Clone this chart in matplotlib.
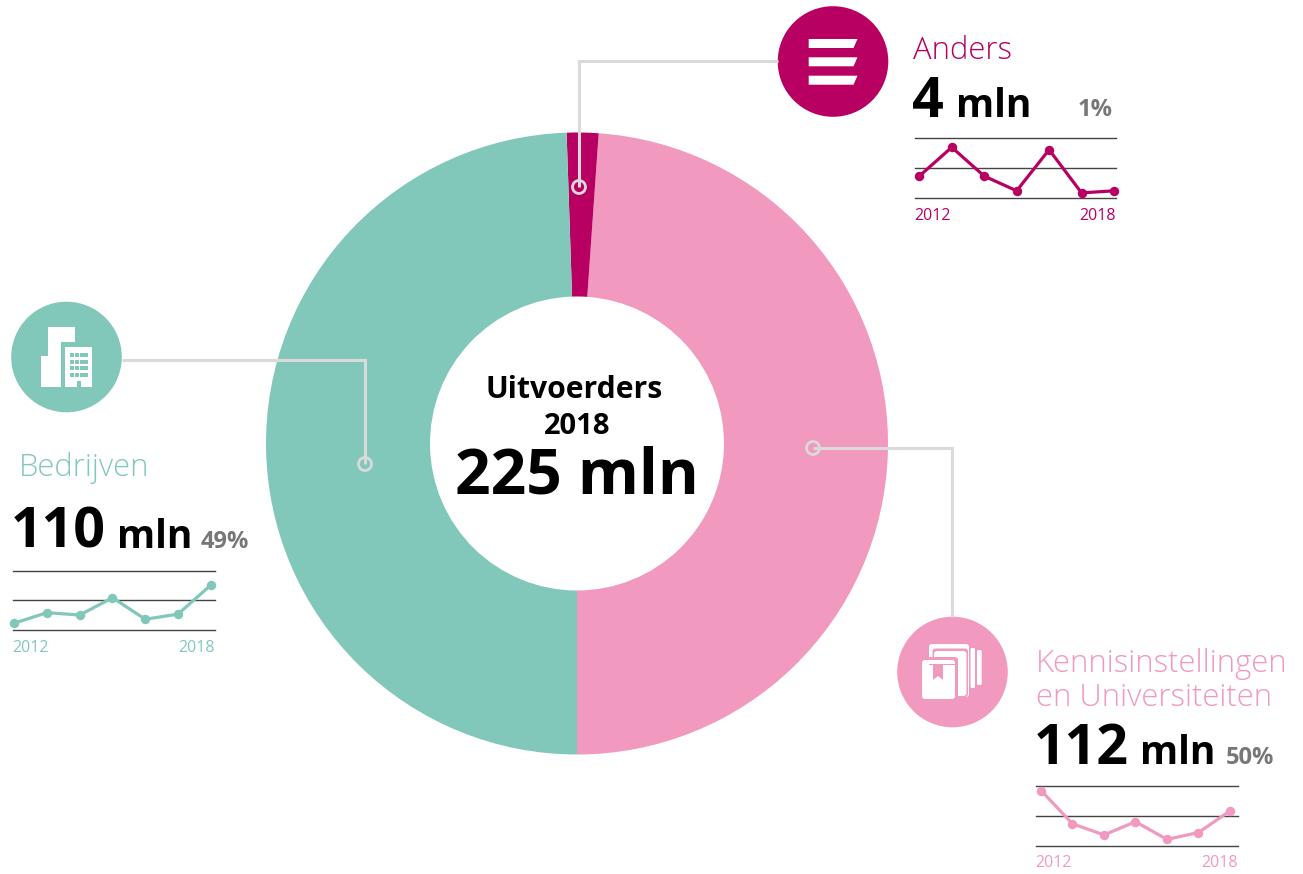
import matplotlib
matplotlib.use('Agg')
import matplotlib.pyplot as plt
from matplotlib.patches import Circle, Polygon, Rectangle, FancyBboxPatch

W, H = 1303, 874
plt.rcParams['font.family'] = ['Open Sans', 'DejaVu Sans']

TEAL = '#82C8BA'
PINK = '#F199BF'
MAROON = '#B80063'
LEADER = '#DADADA'

# donut, shares as drawn in the picture (mln)
slice_names = ['Kennisinstellingen', 'Anders', 'Bedrijven']
slice_values = [110.0, 3.7, 111.3]
slice_colors = [PINK, MAROON, TEAL]

# sparklines: height against the three rules (0, 1, 2)
years = [2012, 2013, 2014, 2015, 2016, 2017, 2018]
anders_trend = [0.73, 1.69, 0.73, 0.24, 1.61, 0.17, 0.24]
bedrijven_trend = [0.24, 0.59, 0.51, 1.09, 0.37, 0.54, 1.51]
kennis_trend = [1.84, 0.73, 0.36, 0.80, 0.21, 0.44, 1.16]

fig = plt.figure(figsize=(W / 100, H / 100), dpi=100)


def px_axes(x0, y0, x1, y1):
    # axes placed by pixel box, y counted from the top
    return fig.add_axes([x0 / W, 1 - y1 / H, (x1 - x0) / W, (y1 - y0) / H])


# donut
cx, cy, r_out, r_in = 577, 443.5, 311, 147
pie_ax = px_axes(cx - r_out, cy - r_out, cx + r_out, cy + r_out)
pie_ax.pie(slice_values, colors=slice_colors, startangle=270, counterclock=True,
           radius=1, wedgeprops=dict(width=1 - r_in / r_out, linewidth=0))
pie_ax.set_xlim(-1, 1)
pie_ax.set_ylim(-1, 1)
pie_ax.patch.set_alpha(0)

# overlay in pixel coordinates for leaders, icons and labels
top = px_axes(0, 0, W, H)
top.set_xlim(0, W)
top.set_ylim(H, 0)
top.axis('off')
top.patch.set_alpha(0)


def leader(xs, ys, ring):
    top.plot(xs, ys, color=LEADER, lw=2.2, solid_joinstyle='miter', solid_capstyle='butt')
    top.add_patch(Circle(ring, 6.5, fill=False, ec=LEADER, lw=2.0))


leader([778, 579, 579], [61, 61, 187], (579, 187))
leader([122, 365, 365], [360, 360, 464], (365, 464))
leader([813, 952, 952], [448, 448, 617], (813, 448))

top.add_patch(Circle((833, 61.5), 55.3, fc=MAROON, ec='none'))
top.add_patch(Circle((66.5, 357), 55.3, fc=TEAL, ec='none'))
top.add_patch(Circle((952.5, 672), 55.3, fc=PINK, ec='none'))

# icon: stacked bars
for y in (39, 57.3, 75.7):
    top.add_patch(Polygon([(808.7, y), (857.5, y), (853.5, y + 9), (808.7, y + 9)], fc='white', ec='none'))

# icon: buildings
top.add_patch(Polygon([(48, 326.7), (74.7, 326.7), (74.7, 342.3), (61.3, 342.3), (61.3, 386.7),
                       (40.7, 386.7), (40.7, 355.7), (48, 355.7)], fc='white', ec='none'))
top.add_patch(Rectangle((65.3, 347.3), 27, 39.4, fc='white', ec='none'))
for wx in (70, 75, 80, 84.3):
    for wy in (353.3, 360, 366.3, 372.7):
        top.add_patch(Rectangle((wx, wy), 3.7, 3.8, fc=TEAL, ec='none'))
top.add_patch(Rectangle((77.3, 380.7), 3.8, 6, fc=TEAL, ec='none'))


def book_box(x0, y0, x1, y1, color, rounding=3):
    top.add_patch(FancyBboxPatch((x0, y0), x1 - x0, y1 - y0, boxstyle=f'round,pad=0,rounding_size={rounding}',
                                 fc=color, ec='none'))


# icon: books
book_box(977, 650, 981.7, 685, 'white', 1.5)
book_box(970.5, 648, 975, 688, 'white', 1.5)
book_box(929, 644, 969, 697, 'white')
book_box(932.5, 648.5, 968, 697, PINK)
book_box(934, 651, 966.5, 696, 'white')
book_box(919, 657, 958, 702, PINK)
book_box(922, 660, 955, 699, 'white')
top.add_patch(Rectangle((929, 663.5), 26, 1.3, fc=PINK, ec='none'))
top.add_patch(Polygon([(933, 664), (943, 664), (943, 680), (938, 676), (933, 680)], fc=PINK, ec='none'))


def sparkline(box, p0, p1, values, color):
    # box = rule extent in pixels, p0/p1 = x pixel of first and last point
    x0, y0, x1, y1 = box
    ax = px_axes(x0, y0, x1, y1)
    per_year = (p1 - p0) / (years[-1] - years[0])
    ax.set_xlim(years[0] - (p0 - x0) / per_year, years[-1] + (x1 - p1) / per_year)
    ax.set_ylim(0, 2)
    ax.patch.set_alpha(0)
    for s in ax.spines.values():
        s.set_visible(False)
    ax.set_xticks([])
    ax.set_yticks([])
    for level in (0, 1, 2):
        ax.axhline(level, color='#444444', lw=1.0, clip_on=False, zorder=1)
    ax.plot(years, values, color=color, lw=2.3, marker='o', ms=6.8, mew=0, clip_on=False, zorder=2)
    top.text(x0 - 1, y1 + 17.5, str(years[0]), color=color, fontsize=11.5, ha='left', va='center')
    top.text(x1, y1 + 17.5, str(years[-1]), color=color, fontsize=11.5, ha='right', va='center')


sparkline((915, 138, 1116, 198), 919.3, 1114, anders_trend, MAROON)
sparkline((13, 570.5, 215, 630.3), 14.3, 210.7, bedrijven_trend, TEAL)
sparkline((1036, 785.7, 1238, 845.7), 1041, 1230, kennis_trend, PINK)

# labels
NAME = dict(fontsize=22.3, fontweight='light', ha='left', va='baseline')
BIG = dict(color='black', fontsize=40, fontweight='bold', ha='left', va='baseline')
MLN = dict(color='black', fontsize=28, fontweight='bold', ha='left', va='baseline')
PCT = dict(color='#777777', fontsize=17, fontweight='bold', va='baseline')

top.text(913, 59, 'Anders', color=MAROON, **NAME)
top.text(912, 117, '4', **BIG)
top.text(956, 117, 'mln', **MLN)
top.text(1113, 116, '1%', ha='right', **PCT)

top.text(19, 476, 'Bedrijven', color=TEAL, **NAME)
top.text(11, 548, '110', **BIG)
top.text(117, 548, 'mln', **MLN)
top.text(201, 548, '49%', ha='left', **PCT)

top.text(1036, 672, 'Kennisinstellingen', color=PINK, **NAME)
top.text(1036, 706, 'en Universiteiten', color=PINK, **NAME)
top.text(1034, 764, '112', **BIG)
top.text(1140, 764, 'mln', **MLN)
top.text(1226, 764, '50%', ha='left', **PCT)

top.text(574, 398, 'Uitvoerders', color='black', fontsize=21.7, fontweight='bold', ha='center', va='baseline')
top.text(577, 434, '2018', color='black', fontsize=21, fontweight='bold', ha='center', va='baseline')
top.text(577, 494, '225 mln', color='black', fontsize=44.8, fontweight='bold', ha='center', va='baseline')

fig.savefig('out.png', dpi=100, facecolor='white')
